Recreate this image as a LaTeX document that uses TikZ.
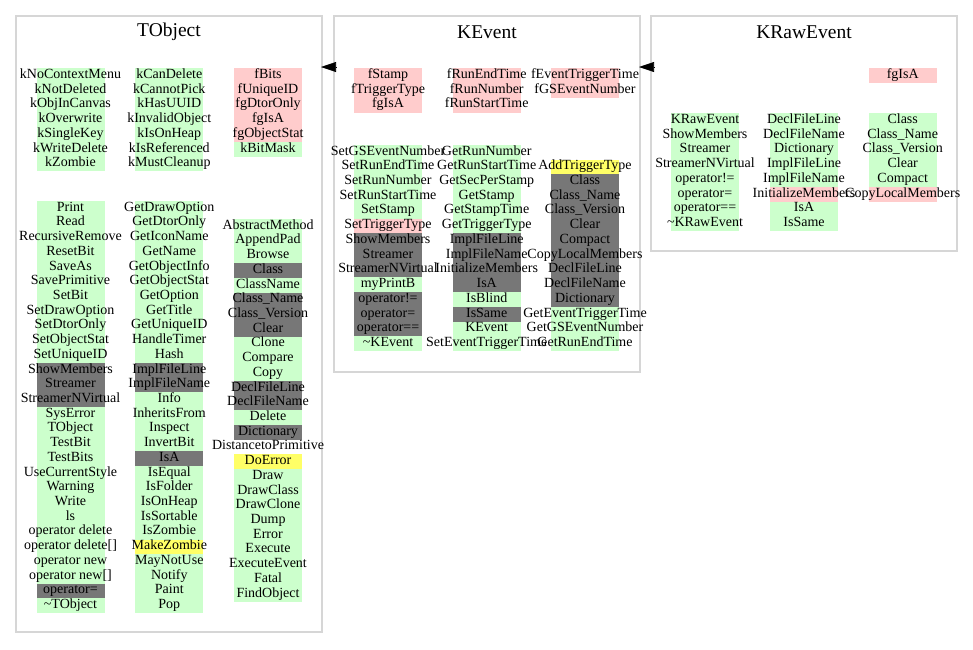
\documentclass[tikz,border=0pt]{standalone}
\usepackage{fontspec}
\setmainfont{Liberation Serif}
\usetikzlibrary{arrows.meta}
\definecolor{cg}{HTML}{CCFFCC}
\definecolor{cp}{HTML}{FFCCCC}
\definecolor{cd}{HTML}{777777}
\definecolor{cy}{HTML}{FFFF66}
\definecolor{cw}{HTML}{FFFFFF}
\definecolor{cborder}{HTML}{D6D6D6}
\newcommand\tld{\char"7E\relax}
\tikzset{
  cell/.style={inner sep=0pt, minimum width=68pt, minimum height=14.8pt,
    text height=8.5pt, text depth=3pt, font=\fontsize{14pt}{14.7pt}\selectfont},
  cluster/.style={draw=cborder, line width=1.2pt, inner sep=0pt},
  ctitle/.style={font=\fontsize{19.5pt}{21pt}\selectfont, inner sep=0pt},
  edge/.style={-{Triangle[length=15pt,width=10pt]}, line width=0.6pt, black}
}
\newcommand\stackcol[4]{%
  \foreach \rc/\rt [count=\ri from 0] in {#4}{%
    \node[cell, fill=\rc] (#1-\ri) at (#2,#3+\ri*14.72+7.36) {\makebox[68pt]{\rt}};
  }}
\begin{document}
\begin{tikzpicture}[x=1pt,y=-1pt]
\useasboundingbox (0,0) rectangle (973,649);
% clusters
\node[cluster, minimum width=306pt, minimum height=616pt] (tobj) at (169,324) {};
\node[cluster, minimum width=306pt, minimum height=356pt] (kev) at (487,194) {};
\node[cluster, minimum width=306pt, minimum height=235pt] (kraw) at (804,133.5) {};
\node[ctitle] (tobj-t) at (169,32) {TObject};
\node[ctitle] (kev-t) at (487,32) {KEvent};
\node[ctitle] (kraw-t) at (804,32) {KRawEvent};
% TObject
\stackcol{toA}{70.5}{68.3}{cg/kNoContextMenu, cg/kNotDeleted, cg/kObjInCanvas, cg/kOverwrite, cg/kSingleKey, cg/kWriteDelete, cg/kZombie}
\stackcol{toB}{169.3}{68.3}{cg/kCanDelete, cg/kCannotPick, cg/kHasUUID, cg/kInvalidObject, cg/kIsOnHeap, cg/kIsReferenced, cg/kMustCleanup}
\stackcol{toC}{268}{68.3}{cp/fBits, cp/fUniqueID, cp/fgDtorOnly, cp/fgIsA, cp/fgObjectStat, cg/kBitMask}
\stackcol{tmA}{70.5}{201}{cg/Print, cg/Read, cg/RecursiveRemove, cg/ResetBit, cg/SaveAs, cg/SavePrimitive, cg/SetBit, cg/SetDrawOption, cg/SetDtorOnly, cg/SetObjectStat, cg/SetUniqueID, cd/ShowMembers, cd/Streamer, cd/StreamerNVirtual, cg/SysError, cg/TObject, cg/TestBit, cg/TestBits, cg/UseCurrentStyle, cg/Warning, cg/Write, cg/ls, cg/operator delete, cg/operator delete[], cg/operator new, cg/operator new[], cd/operator=, cg/\tld TObject}
\stackcol{tmB}{169.3}{201}{cg/GetDrawOption, cg/GetDtorOnly, cg/GetIconName, cg/GetName, cg/GetObjectInfo, cg/GetObjectStat, cg/GetOption, cg/GetTitle, cg/GetUniqueID, cg/HandleTimer, cg/Hash, cd/ImplFileLine, cd/ImplFileName, cg/Info, cg/InheritsFrom, cg/Inspect, cg/InvertBit, cd/IsA, cg/IsEqual, cg/IsFolder, cg/IsOnHeap, cg/IsSortable, cg/IsZombie, cy/MakeZombie, cg/MayNotUse, cg/Notify, cg/Paint, cg/Pop}
\stackcol{tmC}{268}{219}{cg/AbstractMethod, cg/AppendPad, cg/Browse, cd/Class, cg/ClassName, cd/Class\_Name, cd/Class\_Version, cd/Clear, cg/Clone, cg/Compare, cg/Copy, cd/DeclFileLine, cd/DeclFileName, cg/Delete, cd/Dictionary, cw/DistancetoPrimitive, cy/DoError, cg/Draw, cg/DrawClass, cg/DrawClone, cg/Dump, cg/Error, cg/Execute, cg/ExecuteEvent, cg/Fatal, cg/FindObject}
% KEvent
\stackcol{keA}{388}{68.3}{cp/fStamp, cp/fTriggerType, cp/fgIsA}
\stackcol{keB}{486.7}{68.3}{cp/fRunEndTime, cp/fRunNumber, cp/fRunStartTime}
\stackcol{keC}{585}{68.3}{cp/fEventTriggerTime, cp/fGSEventNumber}
\stackcol{kmA}{388}{145}{cg/SetGSEventNumber, cg/SetRunEndTime, cg/SetRunNumber, cg/SetRunStartTime, cg/SetStamp, cp/SetTriggerType, cd/ShowMembers, cd/Streamer, cd/StreamerNVirtual, cg/myPrintB, cd/operator!=, cd/operator=, cd/operator==, cg/\tld KEvent}
\stackcol{kmB}{486.7}{145}{cg/GetRunNumber, cg/GetRunStartTime, cg/GetSecPerStamp, cg/GetStamp, cg/GetStampTime, cg/GetTriggerType, cd/ImplFileLine, cd/ImplFileName, cd/InitializeMembers, cd/IsA, cg/IsBlind, cd/IsSame, cg/KEvent, cg/SetEventTriggerTime}
\stackcol{kmC}{585}{159.7}{cy/AddTriggerType, cd/Class, cd/Class\_Name, cd/Class\_Version, cd/Clear, cd/Compact, cd/CopyLocalMembers, cd/DeclFileLine, cd/DeclFileName, cd/Dictionary, cg/GetEventTriggerTime, cg/GetGSEventNumber, cg/GetRunEndTime}
% KRawEvent
\stackcol{krC}{902.7}{68.3}{cp/fgIsA}
\stackcol{rmA}{705}{113.3}{cg/KRawEvent, cg/ShowMembers, cg/Streamer, cg/StreamerNVirtual, cg/operator!=, cg/operator=, cg/operator==, cg/\tld KRawEvent}
\stackcol{rmB}{804}{113.3}{cg/DeclFileLine, cg/DeclFileName, cg/Dictionary, cg/ImplFileLine, cg/ImplFileName, cp/InitializeMembers, cg/IsA, cg/IsSame}
\stackcol{rmC}{902.7}{113.3}{cg/Class, cg/Class\_Name, cg/Class\_Version, cg/Clear, cg/Compact, cp/CopyLocalMembers}
% inheritance arrows
\coordinate (a1s) at (336,67);
\coordinate (a1e) at (321,67);
\coordinate (a2s) at (654,67);
\coordinate (a2e) at (639,67);
\draw[edge] (a1s) -- (a1e);
\draw[edge] (a2s) -- (a2e);
\end{tikzpicture}
\end{document}
